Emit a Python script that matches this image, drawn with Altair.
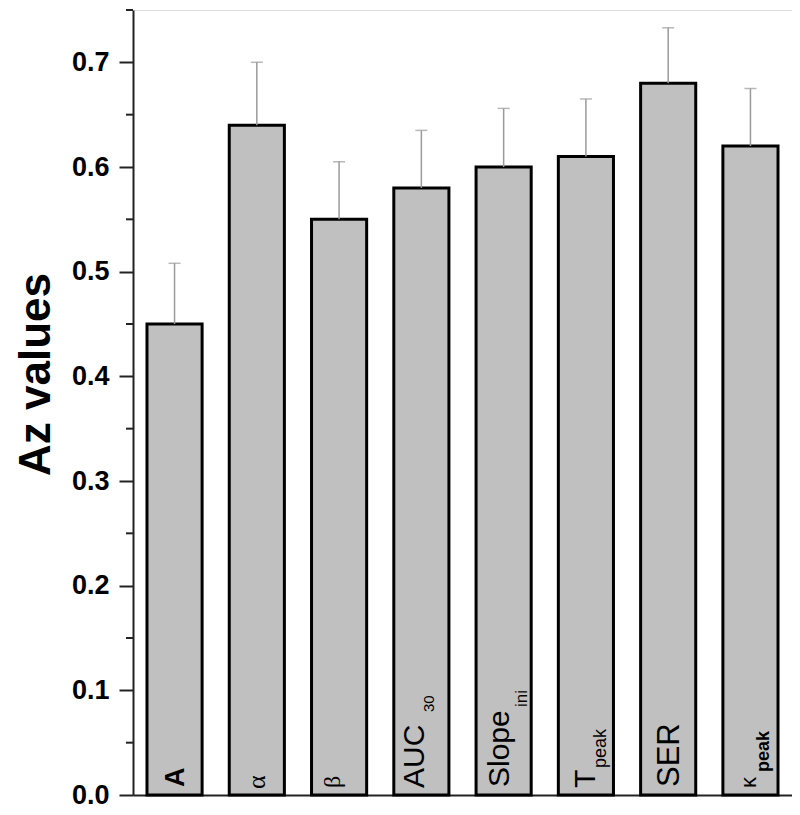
import altair as alt
import pandas as pd

categories = ["A", "alpha", "beta", "AUC30", "Slope_ini", "T_peak", "SER", "kappa_peak"]
values = [0.45, 0.64, 0.55, 0.58, 0.60, 0.61, 0.68, 0.62]
errors = [0.058, 0.060, 0.055, 0.055, 0.056, 0.055, 0.053, 0.055]
label_main = ["A", "α", "β", "AUC", "Slope", "T", "SER", "κ"]
label_sub = ["", "", "", "30", "ini", "peak", "", "peak"]
major_ticks = [0.0, 0.1, 0.2, 0.3, 0.4, 0.5, 0.6, 0.7]
minor_ticks = [0.05, 0.15, 0.25, 0.35, 0.45, 0.55, 0.65, 0.75]

df = pd.DataFrame({"cat": categories, "value": values, "err": errors,
                   "main": label_main, "sub": label_sub})
minor_df = pd.DataFrame({"v": minor_ticks})

SANS = "Liberation Sans"
SERIF = "Liberation Serif"
DARK = "#222222"

x_axis = alt.Axis(labels=False, ticks=False, title=None, domain=True,
                  domainColor=DARK, domainWidth=2, grid=False)
y_axis = alt.Axis(values=major_ticks, format=".1f", grid=False,
                  labelFont=SANS, labelFontWeight="bold", labelFontSize=27,
                  labelColor="black", labelPadding=10,
                  tickSize=14, tickWidth=2, tickColor=DARK,
                  domainColor=DARK, domainWidth=2,
                  title="Az values", titleFont=SANS, titleFontSize=44,
                  titleFontWeight="bold", titleColor="black",
                  titleAngle=270, titleAlign="center", titleBaseline="alphabetic",
                  titleX=-84, titleY=364)
y_scale = alt.Scale(domain=[0, 0.75], nice=False, zero=True)
x_scale = alt.Scale(paddingInner=0.33, paddingOuter=0.17)


def X():
    return alt.X("cat:N", sort=categories, scale=x_scale, axis=x_axis)


def Y(field):
    return alt.Y(field, scale=y_scale, axis=y_axis)


base = alt.Chart(df)

bars = base.mark_bar(fill="#c0c0c0", stroke="black", strokeWidth=3).encode(
    x=X(), y=Y("value:Q"))

err_rule = base.transform_calculate(upper="datum.value + datum.err").mark_rule(
    color="#9a9a9a", strokeWidth=1.5).encode(
    x=X(), y=Y("value:Q"), y2="upper:Q")

err_cap = base.transform_calculate(upper="datum.value + datum.err").mark_tick(
    orient="horizontal", size=12, thickness=1.5, color="#9a9a9a").encode(
    x=X(), y=Y("upper:Q"))

minor = alt.Chart(minor_df).mark_rule(color=DARK, strokeWidth=2).encode(
    y=Y("v:Q"), x=alt.value(-7), x2=alt.value(0))


def label(cat, field, font, size, weight, dx, dy):
    return base.transform_filter(alt.datum.cat == cat).transform_calculate(
        zero="0").mark_text(
        angle=270, align="left", baseline="alphabetic", font=font,
        fontSize=size, fontWeight=weight, color="black", dx=dx, dy=dy).encode(
        x=X(), y=Y("zero:Q"), text=f"{field}:N")


labels = [
    label("A", "main", SANS, 27, "bold", 8, 9.5),
    label("alpha", "main", SERIF, 26, "normal", 6, 8),
    label("beta", "main", SERIF, 24, "normal", 7, 0.5),
    label("AUC30", "main", SANS, 30, "normal", 7, 3),
    label("AUC30", "sub", SANS, 15, "normal", 83, 13),
    label("Slope_ini", "main", SANS, 30, "normal", 8, 5.5),
    label("Slope_ini", "sub", SANS, 17, "normal", 88, 23),
    label("T_peak", "main", SANS, 30, "normal", 7, 9),
    label("T_peak", "sub", SANS, 18, "normal", 27, 20),
    label("SER", "main", SANS, 31, "normal", 8, 11),
    label("kappa_peak", "main", SANS, 22, "normal", 7, 5.5),
    label("kappa_peak", "sub", SANS, 18, "bold", 23, 18.5),
]

chart = alt.layer(bars, err_rule, err_cap, minor, *labels).properties(
    width=659, height=785,
    autosize=alt.AutoSizeParams(type="none"),
    padding={"left": 125, "top": 2, "right": 0, "bottom": 20},
).configure_view(stroke="#8a8a8a", strokeWidth=1.5).configure(background="white")

chart.save("out.html", embed_options={"renderer": "svg", "actions": False})
